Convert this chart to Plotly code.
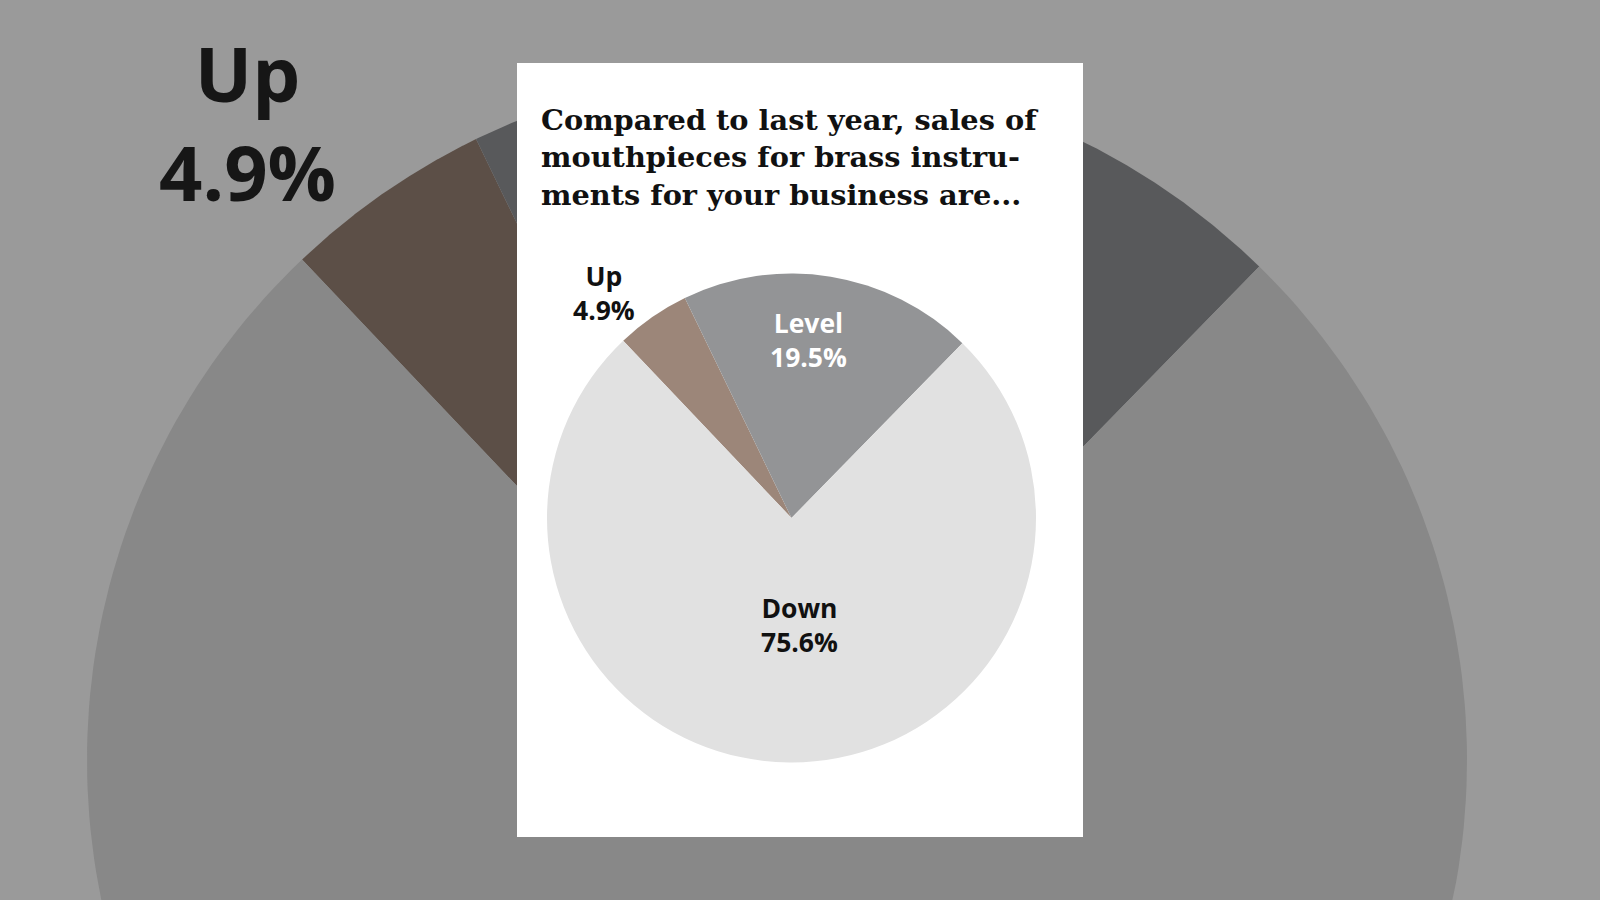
import numpy as np
import plotly.graph_objects as go

# ---------------- data ----------------
categories = ["Up", "Level", "Down"]
shares = [4.9, 19.5, 75.6]
pct_labels = ["4.9%", "19.5%", "75.6%"]

title_lines = [
    "Compared to last year, sales of",
    "mouthpieces for brass instru-",
    "ments for your business are...",
]

# ---------------- styles / layout constants ----------------
slice_colors = ["#9c8679", "#939496", "#e1e1e1"]
text_colors = ["#111111", "#ffffff", "#111111"]
bg_slice_colors = ["#5c4f47", "#58595b", "#888888"]
page_bg = "#9a9a9a"

W, H = 1600, 900
START_ANGLE = -43.5            # first slice start, degrees clockwise from 12 o'clock
PIE_CX, PIE_CY, PIE_R = 791.5, 518.0, 244.5
BIG_CX, BIG_CY, BIG_R = 777.0, 760.0, 690.0
CARD = (517, 63, 1083, 837)    # x0, y0, x1, y1 (pixels from top-left)
label_pos = [(604, 293), (808, 340), (799, 625)]
big_label_pos = (247, 122)

fig = go.Figure()

# enlarged copy of the pie in the background
total = float(sum(shares))
a0 = START_ANGLE
for cat, v, col in zip(categories, shares, bg_slice_colors):
    a1 = a0 + v / total * 360.0
    th = np.radians(np.linspace(a0, a1, 240))
    xs = np.concatenate([[BIG_CX], BIG_CX + BIG_R * np.sin(th), [BIG_CX]])
    ys = np.concatenate([[BIG_CY], BIG_CY - BIG_R * np.cos(th), [BIG_CY]])
    fig.add_trace(go.Scatter(
        x=xs, y=ys, mode="lines", fill="toself", fillcolor=col,
        line=dict(width=0, color=col), hoverinfo="skip", showlegend=False,
        name=cat,
    ))
    a0 = a1

# white card
x0, y0, x1, y1 = CARD
fig.add_trace(go.Scatter(
    x=[x0, x1, x1, x0, x0], y=[y0, y0, y1, y1, y0], mode="lines",
    fill="toself", fillcolor="#ffffff", line=dict(width=0, color="#ffffff"),
    hoverinfo="skip", showlegend=False,
))

# the pie itself
fig.add_trace(go.Pie(
    labels=categories, values=shares, sort=False, direction="clockwise",
    rotation=START_ANGLE,
    marker=dict(colors=slice_colors, line=dict(width=0)),
    textinfo="none", hoverinfo="label+percent", showlegend=False,
    domain=dict(
        x=[(PIE_CX - PIE_R) / W, (PIE_CX + PIE_R) / W],
        y=[(H - PIE_CY - PIE_R) / H, (H - PIE_CY + PIE_R) / H],
    ),
))

annotations = []
# slice labels
for cat, pct, tc, (lx, ly) in zip(categories, pct_labels, text_colors, label_pos):
    annotations.append(dict(
        x=lx, y=ly, xref="x", yref="y", text=f"{cat}<br>{pct}",
        showarrow=False, xanchor="center", yanchor="middle", align="center",
        font=dict(family="Open Sans", size=26.5, color=tc, weight="bold"),
    ))

# big background label
annotations.append(dict(
    x=big_label_pos[0], y=big_label_pos[1], xref="x", yref="y",
    text=f"{categories[0]}<br>{pct_labels[0]}",
    showarrow=False, xanchor="center", yanchor="middle", align="center",
    font=dict(family="Open Sans", size=76, color="#161616", weight="bold"),
))

# title
annotations.append(dict(
    x=539, y=157, xref="x", yref="y", text="<br>".join(title_lines),
    showarrow=False, xanchor="left", yanchor="middle", align="left",
    font=dict(family="DejaVu Serif", size=28.8, color="#111111", weight="bold"),
))

fig.update_layout(
    width=W, height=H,
    margin=dict(l=0, r=0, t=0, b=0, pad=0),
    paper_bgcolor=page_bg, plot_bgcolor=page_bg,
    xaxis=dict(range=[0, W], visible=False, fixedrange=True),
    yaxis=dict(range=[H, 0], visible=False, fixedrange=True),
    annotations=annotations,
    showlegend=False,
)

fig.write_html(
    "out.html",
    config={"displayModeBar": False},
    post_script="document.body.style.margin='0';document.body.style.overflow='hidden';",
)
